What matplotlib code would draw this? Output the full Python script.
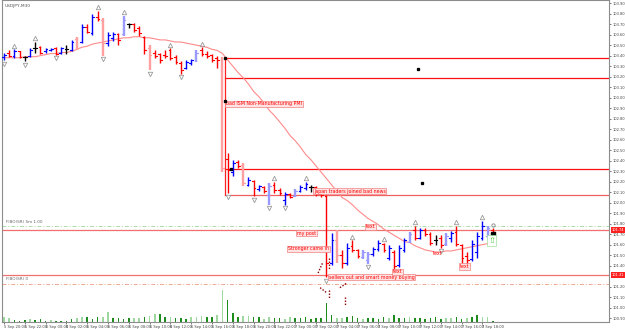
import numpy as np
import pandas as pd
import matplotlib
matplotlib.use("Agg")
import matplotlib.pyplot as plt

# USDJPY M30, 5-7 Sep 2016
opens = [103.39, 103.43, 103.40, 103.44, 103.39, 103.40, 103.47, 103.48, 103.44, 103.45,
         103.47, 103.43, 103.46, 103.45, 103.56, 103.53, 103.67, 103.62, 103.77, 103.74,
         103.52, 103.57, 103.61, 103.61, 103.70, 103.70, 103.66, 103.58, 103.47, 103.43,
         103.42, 103.41, 103.45, 103.39, 103.33, 103.28, 103.33, 103.35, 103.45, 103.42,
         103.41, 103.38, 103.37, 102.42, 102.29, 102.39, 102.36, 102.17, 102.21, 102.13,
         102.15, 102.07, 102.17, 102.12, 102.03, 102.08, 102.06, 102.11, 102.14, 102.15,
         102.15, 102.08, 102.06, 101.43, 101.64, 101.50, 101.43, 101.59, 101.55, 101.48,
         101.45, 101.51, 101.56, 101.61, 101.47, 101.53, 101.41, 101.55, 101.63, 101.74,
         101.66, 101.74, 101.70, 101.64, 101.66, 101.61, 101.66, 101.72, 101.60, 101.49,
         101.46, 101.53, 101.66, 101.68, 101.74]
highs = [103.43, 103.45, 103.46, 103.44, 103.40, 103.47, 103.53, 103.49, 103.47, 103.47,
         103.48, 103.48, 103.50, 103.55, 103.58, 103.70, 103.70, 103.80, 103.83, 103.76,
         103.63, 103.63, 103.62, 103.78, 103.71, 103.71, 103.68, 103.59, 103.50, 103.45,
         103.43, 103.45, 103.47, 103.41, 103.35, 103.36, 103.37, 103.45, 103.48, 103.44,
         103.42, 103.40, 103.39, 102.47, 102.41, 102.41, 102.38, 102.24, 102.22, 102.17,
         102.16, 102.19, 102.20, 102.14, 102.10, 102.09, 102.13, 102.17, 102.20, 102.17,
         102.16, 102.12, 102.07, 101.71, 101.74, 101.55, 101.62, 101.64, 101.56, 101.55,
         101.53, 101.58, 101.64, 101.62, 101.60, 101.55, 101.60, 101.66, 101.72, 101.78,
         101.76, 101.76, 101.72, 101.69, 101.69, 101.71, 101.73, 101.78, 101.61, 101.53,
         101.64, 101.72, 101.83, 101.78, 101.76]
lows = [103.36, 103.39, 103.38, 103.38, 103.35, 103.39, 103.43, 103.42, 103.43, 103.44,
        103.41, 103.42, 103.42, 103.44, 103.45, 103.52, 103.62, 103.60, 103.73, 103.40,
        103.49, 103.54, 103.50, 103.59, 103.66, 103.63, 103.59, 103.42, 103.26, 103.38,
        103.33, 103.38, 103.36, 103.32, 103.23, 103.27, 103.31, 103.34, 103.40, 103.38,
        103.34, 103.28, 102.29, 102.09, 102.25, 102.33, 102.16, 102.16, 102.06, 102.11,
        102.09, 101.98, 102.09, 102.07, 101.98, 102.04, 102.05, 102.10, 102.12, 102.10,
        102.06, 102.05, 101.29, 101.41, 101.43, 101.38, 101.41, 101.53, 101.47, 101.46,
        101.42, 101.49, 101.54, 101.53, 101.45, 101.36, 101.39, 101.53, 101.62, 101.64,
        101.65, 101.68, 101.60, 101.60, 101.57, 101.59, 101.63, 101.59, 101.43, 101.42,
        101.44, 101.47, 101.64, 101.66, 101.70]
closes = [103.41, 103.40, 103.44, 103.39, 103.39, 103.45, 103.47, 103.43, 103.46, 103.46,
          103.42, 103.47, 103.46, 103.53, 103.47, 103.67, 103.63, 103.77, 103.75, 103.52,
          103.60, 103.61, 103.55, 103.74, 103.70, 103.64, 103.62, 103.45, 103.41, 103.40,
          103.36, 103.40, 103.38, 103.34, 103.26, 103.34, 103.36, 103.43, 103.42, 103.40,
          103.36, 103.36, 102.33, 102.31, 102.38, 102.35, 102.19, 102.22, 102.14, 102.16,
          102.11, 102.16, 102.12, 102.09, 102.08, 102.05, 102.11, 102.15, 102.18, 102.15,
          102.08, 102.07, 101.43, 101.64, 101.50, 101.43, 101.57, 101.55, 101.49, 101.53,
          101.51, 101.56, 101.62, 101.55, 101.57, 101.40, 101.57, 101.64, 101.70, 101.66,
          101.74, 101.70, 101.62, 101.64, 101.60, 101.68, 101.71, 101.61, 101.47, 101.45,
          101.61, 101.68, 101.78, 101.76, 101.72]
ma = [103.38, 103.38, 103.38, 103.38, 103.39, 103.39, 103.39, 103.40, 103.41, 103.42,
      103.42, 103.43, 103.43, 103.44, 103.46, 103.48, 103.49, 103.51, 103.52, 103.53,
      103.54, 103.55, 103.56, 103.57, 103.57, 103.58, 103.58, 103.57, 103.57, 103.56,
      103.55, 103.55, 103.54, 103.53, 103.53, 103.52, 103.51, 103.50, 103.49, 103.48,
      103.46, 103.45, 103.42, 103.36, 103.30, 103.24, 103.19, 103.13, 103.06, 103.01,
      102.95, 102.88, 102.83, 102.77, 102.71, 102.64, 102.59, 102.53, 102.46, 102.41,
      102.35, 102.29, 102.23, 102.17, 102.11, 102.05, 102.02, 101.98, 101.93, 101.89,
      101.85, 101.82, 101.79, 101.75, 101.72, 101.69, 101.66, 101.63, 101.62, 101.59,
      101.57, 101.55, 101.54, 101.53, 101.53, 101.54, 101.54, 101.55, 101.56, 101.57,
      101.58, 101.59, 101.60, 101.61, 101.62]
volumes = [200, 160, 80, 40, 80, 120, 80, 120, 40, 80,
           40, 40, 40, 120, 160, 200, 200, 120, 200, 200,
           400, 160, 160, 120, 160, 160, 160, 200, 240, 320,
           320, 200, 200, 160, 160, 120, 200, 200, 240, 200,
           200, 280, 1280, 880, 360, 200, 240, 240, 200, 200,
           120, 200, 160, 160, 120, 200, 160, 160, 200, 120,
           160, 160, 760, 280, 160, 160, 200, 240, 160, 120,
           160, 160, 120, 200, 160, 280, 160, 160, 200, 160,
           160, 120, 160, 200, 120, 160, 160, 200, 120, 160,
           200, 280, 200, 200, 40]
wide_bars = [14, 19, 23, 28, 37, 42, 46, 51, 56, 64, 69, 70, 78, 85, 93]
vol_light = [0, 1, 5, 9, 14, 15, 19, 20, 25, 26, 28, 29, 32, 36, 37, 38, 41, 42, 46, 47,
             50, 51, 54, 55, 64, 65, 69, 74, 78, 85, 86, 89, 92, 93]
fractal_up = [2, 6, 18, 23, 32, 38, 52, 58, 67, 73, 79, 87, 92]
fractal_dn = [0, 4, 10, 19, 28, 34, 43, 48, 51, 54, 62, 70, 84, 88]
start_time = "2016-09-05 20:00"

# levels drawn on the chart
zone_lines = [103.38, 103.19, 102.32]
soft_lines = [102.07]
full_lines = [101.74, 101.31]
fib_top, fib_bot = 101.78, 101.23

notes = [
    (42.7, 102.94, "bad ISM Non-Manufacturing PMI", True),
    (59.6, 102.11, "Japan traders joined bad news", True),
    (69.6, 101.77, "text", True),
    (56.3, 101.71, "my post", True),
    (54.6, 101.56, "Stronger came in", True),
    (62.5, 101.29, "sellers out and smart money buying", True),
    (74.8, 101.34, "text", True),
    (82.5, 101.52, "text", False),
    (87.7, 101.39, "text", True),
]
anchor_dots = [(42.5, 103.38), (42.5, 102.97), (43.7, 102.32), (79.6, 103.27), (80.4, 102.19)]
dotted_marks = [((60.4, 101.33), (61.3, 101.43)), ((62.5, 101.47), (62.5, 101.36)),
                ((60.8, 101.19), (62.1, 101.14)), ((62.5, 101.17), (62.5, 101.09)),
                ((64.6, 101.19), (65.8, 101.23)), ((65.6, 101.10), (65.6, 101.03))]

n = len(opens)
x = np.arange(n)
o, h, l, c = map(np.array, (opens, highs, lows, closes))
times = pd.date_range(start_time, periods=n, freq="30min")

fig = plt.figure(figsize=(6.25, 3.29), dpi=100)
ax = fig.add_axes([2 / 625, 7 / 329, 607 / 625, 322 / 329])
axv = ax.twinx()
ax.set_zorder(axv.get_zorder() + 1)
ax.patch.set_visible(False)

# volumes
vcol = ['#9fd89f' if i in vol_light else '#1c8c1c' for i in range(n)]
axv.bar(x, volumes, width=0.32, color=vcol, linewidth=0)
axv.set_ylim(0, 322 * 40)
axv.set_yticks([])
for s in axv.spines.values():
    s.set_visible(False)

# moving average
ax.plot(x, ma, color='#ff8a8a', lw=0.8, zorder=2)

# levels
for lv in zone_lines:
    ax.plot([42.5, 200], [lv, lv], color='#ff1010', lw=0.9, zorder=1)
for lv in soft_lines:
    ax.plot([43.5, 200], [lv, lv], color='#f06060', lw=0.9, zorder=1)
for lv in full_lines:
    ax.axhline(lv, color='#f07070', lw=0.9, zorder=1)
ax.axhline(fib_top, color='#a8dca8', lw=0.7, ls=(0, (4, 2, 1, 2)), zorder=1)
ax.axhline(fib_bot, color='#f0a890', lw=0.7, ls=(0, (4, 2, 1, 2)), zorder=1)
ax.plot([42.5, 42.5], [zone_lines[0], soft_lines[0]], color='#ff2020', lw=0.9, zorder=1)

# OHLC bars
tick = 0.35
for i in range(n):
    if c[i] > o[i]:
        col, pale = '#0000ff', '#9999ff'
    elif c[i] < o[i]:
        col, pale = '#ff0000', '#ff9f9f'
    else:
        col, pale = '#000000', '#888888'
    if i in wide_bars:
        col, lw = pale, 1.7
    else:
        lw = 1.0
    ax.plot([i, i], [l[i], h[i]], color=col, lw=lw, solid_capstyle='butt', zorder=3)
    ax.plot([i - tick, i], [o[i], o[i]], color=col, lw=0.8, zorder=3)
    ax.plot([i, i + tick], [c[i], c[i]], color=col, lw=0.8, zorder=3)

# fractals
up = np.array(fractal_up)
dn = np.array(fractal_dn)
ax.plot(up, h[up] + 0.035, ls='none', marker='^', ms=3.2, mfc='none', mec='#9a9a9a', mew=0.6, zorder=4)
ax.plot(dn, l[dn] - 0.035, ls='none', marker='v', ms=3.2, mfc='none', mec='#9a9a9a', mew=0.6, zorder=4)

# annotations
for xx, yy, txt, boxed in notes:
    kw = dict(fontsize=3.4, color='#ff0000', ha='left', va='center', zorder=5)
    if boxed:
        kw['bbox'] = dict(boxstyle='square,pad=0.15', fc='#ffe2e2', ec='#f08080', lw=0.5)
    ax.text(xx, yy, txt, **kw)
for (x0, y0), (x1, y1) in dotted_marks:
    ax.plot([x0, x1], [y0, y1], color='#8b0000', lw=1.0, ls=(0, (1, 1.2)), zorder=5)
ax.plot([p[0] for p in anchor_dots], [p[1] for p in anchor_dots], 's', ms=1.4, color='black', zorder=6)

# current bar markers
ax.plot([n - 1], [101.70], 's', ms=2.6, color='black', zorder=6)
ax.plot([n - 1], [101.79], 'o', ms=2.4, mfc='none', mec='#888888', mew=0.6, zorder=6)
ax.text(n - 1.2, 101.64, '\u21e7', fontsize=6, color='#40d040', ha='center', va='center', zorder=6,
        bbox=dict(boxstyle='square,pad=0.1', fc='white', ec='#a0e0a0', lw=0.5))

# labels in the corner
ax.text(0.005, 0.988, 'USDJPY,M30', transform=ax.transAxes, fontsize=3.2, color='#555555', va='top')
ax.text(0.4, fib_top + 0.02, 'FIBO(SR) Sm 1.00', fontsize=3.0, color='#666666', va='bottom')
ax.text(0.4, fib_bot + 0.02, 'FIBO(SR) 0', fontsize=3.0, color='#666666', va='bottom')

# axes
y_top = 103.93
y_bot = 103.93 - 322 / 105
ax.set_xlim(-0.385, 116.35)
ax.set_ylim(y_bot, y_top)
ax.yaxis.tick_right()
yt = np.round(np.arange(100.9, 103.95, 0.1), 2)
yt = [t for t in yt if min(abs(t - lv) for lv in full_lines) > 0.035]
ax.set_yticks(yt)
ax.yaxis.set_major_formatter(plt.FormatStrFormatter('%.2f'))
ax.tick_params(axis='y', labelsize=2.6, length=1.5, width=0.5, pad=0.8, colors='#444444')
xt = x[::4]
ax.set_xticks(xt)
ax.set_xticklabels([f"{t.day} {t.strftime('%b %H:%M')}" for t in times[::4]], ha='left')
ax.tick_params(axis='x', labelsize=2.6, length=1.5, width=0.5, pad=0.8, colors='#444444')
for s in ax.spines.values():
    s.set_color('#8c8c8c')
    s.set_linewidth(0.8)

# highlighted price labels
for lv in full_lines:
    ax.text(1.0045, lv, f"{lv:.2f}", transform=ax.get_yaxis_transform(), fontsize=2.6, color='white',
            va='center', ha='left', bbox=dict(boxstyle='square,pad=0.2', fc='#ff2020', ec='none'))

fig.savefig('out.png', dpi=100, facecolor='white')
